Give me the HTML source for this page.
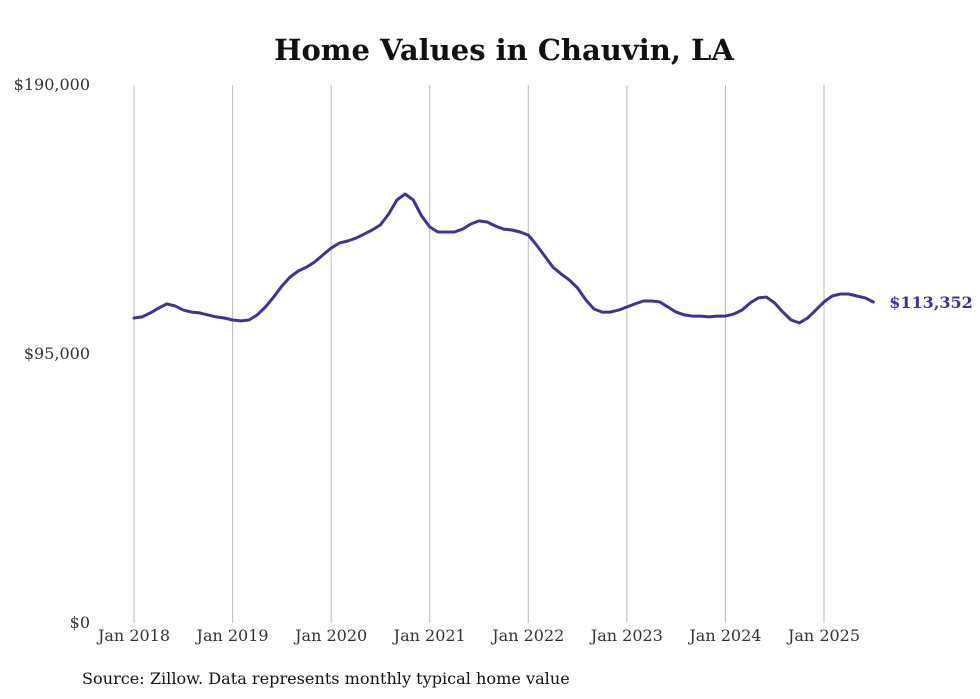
<!DOCTYPE html>
<html><head><meta charset="utf-8"><style>
body{margin:0;background:#fff;width:980px;height:699px;overflow:hidden}
svg{display:block;font-family:"DejaVu Serif","Liberation Serif",serif}
</style></head><body>
<svg id="chart" width="980" height="699">
<text x="504" y="60" text-anchor="middle" font-size="29" font-weight="bold" fill="#111">Home Values in Chauvin, LA</text>
<g id="grid"></g><g id="yaxis"></g><g id="xaxis"></g><g id="series"></g>
<text x="82" y="684" font-size="16.1" fill="#111">Source: Zillow. Data represents monthly typical home value</text>
</svg>
<script>
const yearLabels=["Jan 2018","Jan 2019","Jan 2020","Jan 2021","Jan 2022","Jan 2023","Jan 2024","Jan 2025"];
const yTicks=[0,95000,190000];
const yTickLabels=["$0","$95,000","$190,000"];
const values=[107.7,108.1,109.5,111.2,112.7,112.0,110.5,109.8,109.5,108.8,108.1,107.7,
107.0,106.7,107.0,108.8,111.6,115.1,119.0,122.2,124.3,125.7,127.5,130.0,
132.4,134.2,134.9,135.9,137.3,138.8,140.6,144.4,149.4,151.5,149.4,143.8,
139.9,138.1,138.1,138.1,139.1,140.9,142.0,141.6,140.2,139.1,138.8,138.1,
137.0,133.5,129.6,125.7,123.3,121.1,118.3,114.1,110.9,109.8,109.8,110.5,
111.6,112.7,113.7,113.7,113.4,111.6,109.8,108.8,108.4,108.4,108.1,108.4,
108.4,109.1,110.5,113.0,114.8,115.1,113.0,109.8,107.0,106.0,107.7,110.5,
113.4,115.5,116.2,116.2,115.5,114.8,113.352].map(v=>v*1000);
const lastLabel="$113,352";
const NS="http://www.w3.org/2000/svg";
const x=i=>134+i*(824-134)/84;
const y=v=>623-v*(623-85)/190000;
function mk(t,a,p){const e=document.createElementNS(NS,t);for(const k in a)e.setAttribute(k,a[k]);p.appendChild(e);return e;}
const grid=document.getElementById('grid'),ya=document.getElementById('yaxis'),xa=document.getElementById('xaxis'),se=document.getElementById('series');
yearLabels.forEach((l,k)=>{
 const gx=x(k*12);
 const ln=mk('line',{x1:gx,x2:gx,y1:85,y2:623,stroke:'#bbb','stroke-width':1},grid);
 
 
 const t=mk('text',{x:gx,y:641,'text-anchor':'middle','font-size':16,fill:'#333'},xa);
 t.textContent=l;
 
 
});
yTicks.forEach((v,k)=>{
 const t=mk('text',{x:90,y:y(v)+5,'text-anchor':'end','font-size':16,fill:'#333'},ya);
 t.textContent=yTickLabels[k];
 
 
});
const d=values.map((v,i)=>(i?'L':'M')+x(i).toFixed(1)+' '+y(v).toFixed(1)).join(' ');
const p=mk('path',{d:d,fill:'none',stroke:'#3d3596','stroke-width':3,'stroke-linejoin':'round','stroke-linecap':'round'},se);


const li=values.length-1;
const lt=mk('text',{x:x(li)+16,y:y(values[li])+6,'font-size':16,'font-weight':'bold',fill:'#3d3596'},se);
lt.textContent=lastLabel;


</script>
</body></html>
